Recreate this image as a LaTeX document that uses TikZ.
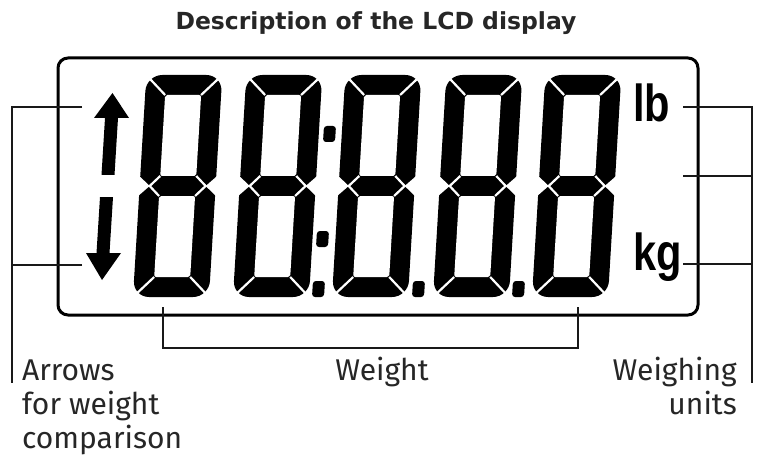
\documentclass[tikz,border=0pt]{standalone}
\usepackage{fontspec}
\setmainfont{Fira Sans}
\newfontfamily\unitfont{Liberation Sans}
\newfontfamily\titlefont{DejaVu Sans}
\usetikzlibrary{calc,positioning}

\begin{document}
\begin{tikzpicture}
  [
    x=1pt, y=1pt,
    frame/.style={
      line width=3pt,
      rounded corners=10pt
    },
    leader/.style={
      line width=1.8pt,
      draw=black!90
    },
    seg/.style={
      fill=black
    },
    cut/.style={
      draw=white,
      line width=2.2pt
    },
    dot/.style={
      fill=black,
      rounded corners=3pt
    },
    label/.style={
      inner sep=0pt,
      text=black!85,
      font=\fontsize{30}{34}\selectfont
    },
    unit/.style={
      inner sep=0pt,
      xscale=0.8,
      font=\unitfont\bfseries\fontsize{52}{52}\selectfont
    }
  ]
\useasboundingbox (0,0) rectangle (767,464);

% Title
\node (title) [inner sep=0pt, text=black!85, font=\titlefont\bfseries\fontsize{23.5}{28}\selectfont]
  at (376,441) {Description of the LCD display};

% Display
\draw [frame] (58,406) rectangle (698,149);

% Digits
\foreach \dx in {133,233,332,433,532} {
  \begin{scope}[shift={(\dx,167)}, xslant=0.06]
    \fill [seg, rounded corners=16pt] (0,0) rectangle (76,222);
    \fill [white, rounded corners=2pt] (20,121) rectangle (56,202);
    \fill [white, rounded corners=2pt] (20,20) rectangle (56,101);
    \fill [white] (-2,122) -- (10,111) -- (-2,100) -- cycle;
    \fill [white] (78,122) -- (66,111) -- (78,100) -- cycle;
    \draw [cut] (20,20) -- (-3,-3);
    \draw [cut] (56,20) -- (79,-3);
    \draw [cut] (20,202) -- (-3,225);
    \draw [cut] (56,202) -- (79,225);
    \draw [cut] (20,121) -- (10,111) -- (20,101);
    \draw [cut] (56,121) -- (66,111) -- (56,101);
  \end{scope}
}

% Colon and decimal points
\foreach \px/\py in {323/322, 316/217, 312/167, 412/167, 512/167} {
  \begin{scope}[shift={(\px,\py)}, xslant=0.06]
    \fill [dot] (0,0) rectangle (12,16);
  \end{scope}
}

% Arrows
\fill [seg] (112.5,371) -- (129,346) -- (118,346) -- (114.5,289)
  -- (101.5,289) -- (105,346) -- (94,346) -- cycle;
\fill [seg] (113,267) -- (109.5,211) -- (121,211) -- (102,184)
  -- (86,211) -- (96.5,211) -- (100,267) -- cycle;

% Units
\node (lb) [unit, anchor=base west] at (633,342) {lb};
\node (kg) [unit, anchor=base west] at (633,194) {kg};

% Leaders
\coordinate (upEnd)   at (82,357);
\coordinate (downEnd) at (82,199);
\coordinate (arrFoot) at (12,81);
\draw [leader] (upEnd) -| (arrFoot);
\draw [leader] (downEnd) -- (downEnd -| arrFoot);

\coordinate (lbEnd)   at (683,357);
\coordinate (midEnd)  at (683,288);
\coordinate (kgEnd)   at (683,200);
\coordinate (unitFoot) at (752,81);
\draw [leader] (lbEnd) -| (unitFoot);
\draw [leader, line width=2.6pt] (midEnd) -- (midEnd -| unitFoot);
\draw [leader] (kgEnd) -- (kgEnd -| unitFoot);

\coordinate (wLeft)  at (163,157);
\coordinate (wRight) at (578,157);
\coordinate (wBase)  at (370,116);
\draw [leader] (wLeft) |- (wBase) -| (wRight);

% Labels
\node (arrows) [label, anchor=north west, align=left] at (22,104)
  {Arrows\\for weight\\comparison};
\node (weight) [label, anchor=north] at (382,107) {Weight};
\node (units)  [label, anchor=north east, align=right] at (737,107)
  {Weighing\\units};

\end{tikzpicture}
\end{document}
